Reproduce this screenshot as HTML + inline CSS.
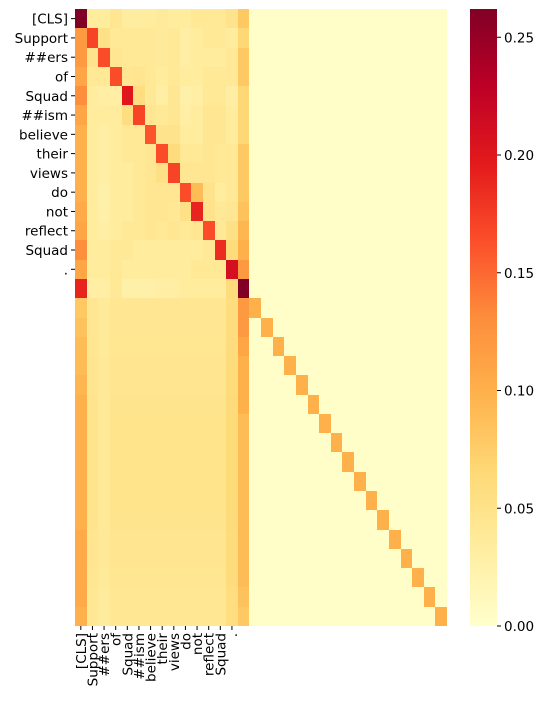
<!DOCTYPE html>
<html><head><meta charset="utf-8"><style>
body{margin:0;background:#fff;width:551px;height:700px;overflow:hidden}
text{font-family:"DejaVu Sans","Liberation Sans",sans-serif;font-size:13.5px;fill:#000}
</style></head><body>
<svg id="chart" width="551" height="700" xmlns="http://www.w3.org/2000/svg"></svg>
<script>
const tokens=["[CLS]","Support","##ers","of","Squad","##ism","believe","their","views","do","not","reflect","Squad","."];
const headRows=[
[.262,.04,.04,.05,.038,.038,.04,.042,.04,.04,.045,.045,.045,.055,.08],
[.12,.17,.06,.045,.045,.045,.045,.042,.045,.035,.04,.045,.045,.04,.075],
[.12,.055,.165,.05,.045,.045,.045,.042,.045,.035,.04,.04,.04,.045,.08],
[.11,.045,.045,.165,.05,.052,.045,.04,.045,.04,.04,.045,.045,.045,.08],
[.13,.04,.035,.035,.2,.065,.045,.035,.05,.03,.035,.045,.045,.035,.075],
[.11,.04,.04,.04,.065,.17,.05,.045,.05,.035,.04,.05,.05,.04,.075],
[.10,.04,.035,.04,.045,.045,.16,.055,.055,.04,.04,.05,.05,.04,.075],
[.10,.04,.035,.04,.045,.045,.05,.165,.07,.045,.045,.05,.045,.045,.08],
[.10,.04,.035,.04,.04,.045,.05,.06,.17,.05,.05,.05,.045,.045,.08],
[.10,.04,.03,.04,.04,.045,.05,.05,.05,.165,.09,.055,.04,.045,.08],
[.105,.04,.03,.04,.04,.045,.05,.05,.045,.06,.19,.055,.045,.05,.085],
[.11,.04,.035,.04,.045,.045,.05,.045,.05,.045,.05,.165,.045,.06,.095],
[.13,.04,.04,.045,.045,.04,.04,.04,.04,.04,.04,.045,.185,.07,.1],
[.11,.04,.04,.045,.04,.04,.04,.04,.04,.04,.045,.045,.045,.21,.12],
[.19,.035,.035,.045,.03,.03,.03,.035,.035,.04,.04,.04,.04,.07,.262]
];
const padCol0=[.08,.085,.09,.09,.095,.1,.1,.1,.1,.1,.1,.1,.105,.105,.105,.105,.1];
const padCol14=[.12,.12,.11,.1,.1,.1,.09,.09,.09,.09,.09,.09,.09,.09,.09,.085,.08];
const padMid=[.044,.044,.045,.046,.046,.047,.048,.048,.048,.048,.048,.047,.046,.046,.045,.043,.042];
const padDiag=[.1,.1,.1,.1,.1,.1,.1,.1,.1,.1,.1,.1,.1,.1,.1,.1,.1];
const cbTicks=[0,0.05,0.10,0.15,0.20,0.25];
const N=32, vmax=0.262, floorVal=0.003;

const stops=["#ffffcc","#ffeda0","#fed976","#feb24c","#fd8d3c","#fc4e2a","#e31a1c","#bd0026","#800026"];
function hex(h){return [1,3,5].map(i=>parseInt(h.substr(i,2),16));}
function cmap(v){let t=Math.max(0,Math.min(1,v/vmax))*8;let i=Math.min(7,Math.floor(t));let f=t-i;
 const a=hex(stops[i]),b=hex(stops[i+1]);return "rgb("+a.map((c,k)=>Math.round(c+(b[k]-c)*f)).join(",")+")";}
function value(r,c){
 if(r<15){ if(c>=15) return floorVal; const v=headRows[r][c]; return v<0.08? v*0.88 : v; }
 const p=r-15;
 if(c===0) return padCol0[p];
 if(c===14) return padCol14[p];
 if(c===13) return padMid[p]+0.015;
 if(c<14) return padMid[p]*(c===2?0.85:1);
 if(c===r) return padDiag[p];
 return floorVal;
}
const L=75,T=9,W=372,H=617,cw=W/N,ch=H/N;
const xs=c=>L+c*cw, ys=r=>T+r*ch;
const svg=document.getElementById('chart');const NS="http://www.w3.org/2000/svg";
function el(tag,attrs,parent){const e=document.createElementNS(NS,tag);for(const k in attrs)e.setAttribute(k,attrs[k]);(parent||svg).appendChild(e);return e;}
const g=el('g',{});


for(let r=0;r<N;r++)for(let c=0;c<N;c++){
 const x0=Math.round(xs(c)),x1=Math.round(xs(c+1)),y0=Math.round(ys(r)),y1=Math.round(ys(r+1));
 const rc=el('rect',{x:x0,y:y0,width:x1-x0,height:y1-y0,fill:cmap(value(r,c))},g);
 
 
}
tokens.forEach((t,i)=>{
 const y=ys(i)+ch/2;
 el('line',{x1:L-4,x2:L,y1:y,y2:y,stroke:'#000','stroke-width':1});
 const tx=el('text',{x:L-7,y:y+5,'text-anchor':'end'});tx.textContent=t;
 
 
 const x=xs(i)+cw/2;
 el('line',{x1:x,x2:x,y1:T+H,y2:T+H+4,stroke:'#000','stroke-width':1});
 const lx=el('text',{x:x+5,y:T+H+7,'text-anchor':'end',transform:`rotate(-90 ${x+5} ${T+H+7})`});lx.textContent=t;
 
 
});
const defs=el('defs',{});const gr=el('linearGradient',{id:'cb',x1:0,y1:1,x2:0,y2:0},defs);
stops.forEach((s,i)=>el('stop',{offset:i/8,'stop-color':s},gr));
const CBX=470,CBW=27;
const cb=el('rect',{x:CBX,y:T,width:CBW,height:H,fill:'url(#cb)'});


const cys=v=>T+H-v/vmax*H;
cbTicks.forEach(v=>{
 const y=cys(v);
 el('line',{x1:CBX+CBW,x2:CBX+CBW+4,y1:y,y2:y,stroke:'#000','stroke-width':1});
 const t=el('text',{x:CBX+CBW+7,y:y+5});t.textContent=v.toFixed(2);
 
 
});
</script>
</body></html>
